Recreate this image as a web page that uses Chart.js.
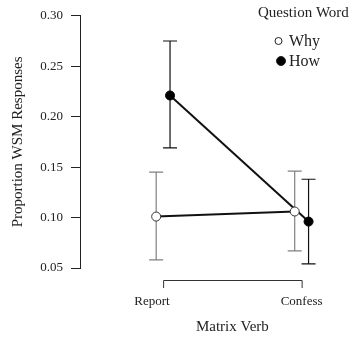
<!DOCTYPE html>
<html>
<head>
<meta charset="utf-8">
<script src="https://cdn.jsdelivr.net/npm/chart.js@4.4.1/dist/chart.umd.min.js"></script>
<style>
  body { margin: 0; background: #fff; }
  #wrap { width: 350px; height: 343px; }
</style>
</head>
<body>
<div id="wrap"><canvas id="chart"></canvas></div>
<script>
// data
const categories = ['Report', 'Confess'];
const seriesNames = ['Why', 'How'];
const whyMean  = [0.101, 0.106];
const whyLower = [0.058, 0.067];
const whyUpper = [0.145, 0.146];
const howMean  = [0.221, 0.096];
const howLower = [0.169, 0.054];
const howUpper = [0.275, 0.138];
const yTicks = [0.05, 0.10, 0.15, 0.20, 0.25, 0.30];

const FONT = 'Liberation Serif';
const dodge = 0.05;

function points(means, shift) {
  return means.map((v, i) => ({ x: i + 1 + shift, y: v }));
}

// error bars, drawn under the points
const errorBars = {
  id: 'errorBars',
  beforeDatasetsDraw(chart) {
    const ctx = chart.ctx;
    const y = chart.scales.y;
    chart.data.datasets.forEach((ds, di) => {
      const meta = chart.getDatasetMeta(di);
      ctx.save();
      ctx.strokeStyle = ds.barColor;
      ctx.lineWidth = 1.2;
      meta.data.forEach((pt, i) => {
        const top = y.getPixelForValue(ds.upper[i]);
        const bot = y.getPixelForValue(ds.lower[i]);
        ctx.beginPath();
        ctx.moveTo(pt.x, top); ctx.lineTo(pt.x, bot);
        ctx.moveTo(pt.x - 7, top); ctx.lineTo(pt.x + 7, top);
        ctx.moveTo(pt.x - 7, bot); ctx.lineTo(pt.x + 7, bot);
        ctx.stroke();
      });
      ctx.restore();
    });
  }
};

// bracket-style x axis line + axis title, legend in the top-right
const extras = {
  id: 'extras',
  afterDraw(chart) {
    const ctx = chart.ctx;
    const x = chart.scales.x;
    const area = chart.chartArea;
    const x1 = x.getPixelForValue(1), x2 = x.getPixelForValue(categories.length);
    const yb = area.bottom + 12;
    ctx.save();
    ctx.strokeStyle = '#333';
    ctx.lineWidth = 1;
    ctx.beginPath();
    ctx.moveTo(x1 + 0.5, yb + 8); ctx.lineTo(x1 + 0.5, yb + 0.5);
    ctx.lineTo(x2 + 0.5, yb + 0.5); ctx.lineTo(x2 + 0.5, yb + 8);
    ctx.stroke();

    ctx.fillStyle = '#222';
    ctx.font = '15px "' + FONT + '"';
    ctx.textAlign = 'center';
    ctx.textBaseline = 'middle';
    ctx.fillText('Matrix Verb', (x1 + x2) / 2, 327);

    // legend
    ctx.textAlign = 'left';
    ctx.fillText('Question Word', 258, 13);
    const rows = [41, 61];
    const markX = [278.5, 281];
    const markR = [3.5, 4.5];
    chart.data.datasets.forEach((ds, i) => {
      ctx.beginPath();
      ctx.arc(markX[i], rows[i], markR[i], 0, Math.PI * 2);
      ctx.fillStyle = ds.pointBackgroundColor;
      ctx.fill();
      ctx.strokeStyle = '#222';
      ctx.lineWidth = 1;
      ctx.stroke();
      ctx.fillStyle = '#222';
      ctx.font = '16px "' + FONT + '"';
      ctx.fillText(ds.label, 289, rows[i] + 1);
    });
    ctx.restore();
  }
};

new Chart(document.getElementById('chart'), {
  type: 'scatter',
  data: {
    datasets: [
      {
        label: seriesNames[0],
        data: points(whyMean, -dodge),
        lower: whyLower, upper: whyUpper, barColor: '#808080',
        showLine: true,
        borderColor: '#111', borderWidth: 2,
        pointRadius: 4.5, pointBackgroundColor: '#fff',
        pointBorderColor: '#333', pointBorderWidth: 1
      },
      {
        label: seriesNames[1],
        data: points(howMean, dodge),
        lower: howLower, upper: howUpper, barColor: '#111',
        showLine: true,
        borderColor: '#111', borderWidth: 2,
        pointRadius: 4.5, pointBackgroundColor: '#000',
        pointBorderColor: '#000', pointBorderWidth: 1
      }
    ]
  },
  options: {
    responsive: true,
    maintainAspectRatio: false,
    animation: false,
    layout: { padding: { left: 0, top: 14, right: 10, bottom: 30 } },
    plugins: { legend: { display: false }, tooltip: { enabled: false } },
    scales: {
      x: {
        type: 'linear',
        min: 0.4, max: 2.265,
        grid: { display: false, drawTicks: false },
        border: { display: false },
        afterBuildTicks(scale) {
          scale.ticks = [{ value: 0.92 }, { value: 2 }];
        },
        afterFit(scale) { scale.height = 45; },
        ticks: {
          padding: 26,
          color: '#222',
          font: { family: FONT, size: 13 },
          callback: (v, i) => categories[i]
        }
      },
      y: {
        min: 0.05, max: 0.30,
        afterBuildTicks(scale) {
          scale.ticks = yTicks.map(v => ({ value: v }));
        },
        afterFit(scale) { scale.width = 80; },
        grid: { drawOnChartArea: false, drawTicks: true, tickLength: 9, color: '#222' },
        border: { display: true, color: '#222', width: 1 },
        ticks: {
          padding: 8,
          color: '#222',
          font: { family: FONT, size: 13 },
          callback: v => v.toFixed(2)
        },
        title: {
          display: true,
          text: 'Proportion WSM Responses',
          color: '#222',
          font: { family: FONT, size: 15 },
          padding: { top: 9, bottom: 0 }
        }
      }
    }
  },
  plugins: [errorBars, extras]
});
</script>
</body>
</html>
